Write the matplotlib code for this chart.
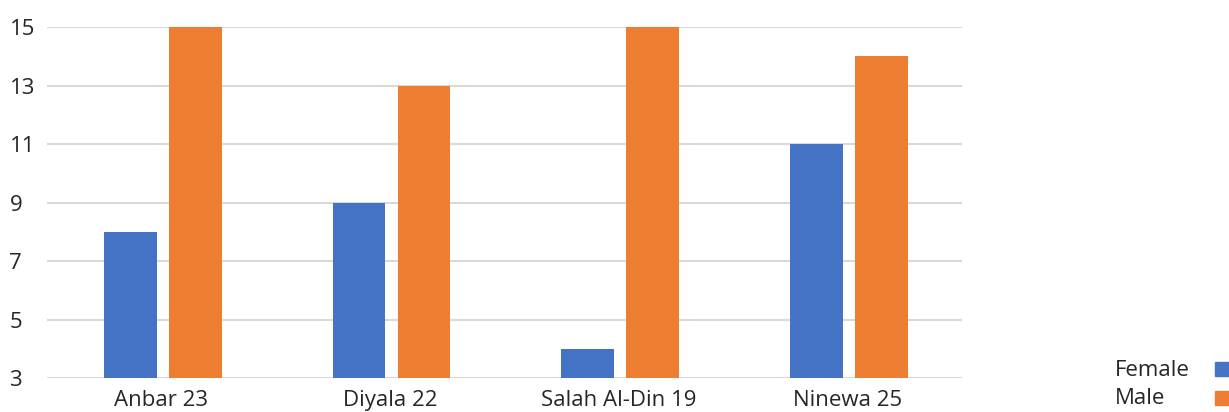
import numpy as np
import matplotlib.pyplot as plt
from matplotlib.patches import Rectangle

categories = ['Anbar 23', 'Diyala 22', 'Salah Al-Din 19', 'Ninewa 25']
female = [8, 9, 4, 11]
male = [15, 13, 15, 14]
yticks = [3, 5, 7, 9, 11, 13, 15]

BLUE = '#4472C4'
ORANGE = '#ED7D31'
TXT = '#262626'

plt.rcParams['font.family'] = ['Open Sans', 'DejaVu Sans']

W, H = 1229, 412
fig = plt.figure(figsize=(W / 100, H / 100), dpi=100)
ax = fig.add_axes([47 / W, (H - 378) / H, (962 - 47) / W, (378 - 27) / H])

x = np.arange(len(categories))
w = 0.23
off = 0.142
ax.bar(x - off + 0.006, female, w, color=BLUE, zorder=3)
ax.bar(x + off + 0.006, male, w, color=ORANGE, zorder=3)

ax.set_xlim(-0.5, len(categories) - 0.5)
ax.set_ylim(3, 15)
ax.set_yticks(yticks)
ax.set_xticks(x)
ax.set_xticklabels(categories)
ax.yaxis.grid(True, color='#D9D9D9', linewidth=1.5, zorder=0)
ax.set_axisbelow(True)
for s in ax.spines.values():
    s.set_visible(False)
ax.tick_params(axis='both', length=0, labelsize=16, colors=TXT)
ax.tick_params(axis='y', pad=27)
for lab in ax.get_yticklabels():
    lab.set_horizontalalignment('left')
ax.tick_params(axis='x', pad=8.5)

# legend at bottom right, labels left aligned, keys cut by the edge
fig.text(1115 / W, (H - 371) / H, 'Female', fontsize=16, color=TXT, va='center', ha='left')
fig.text(1115 / W, (H - 399) / H, 'Male', fontsize=16, color=TXT, va='center', ha='left')
fig.add_artist(Rectangle((1215 / W, (H - 376) / H), 14 / W, 14 / H,
                         transform=fig.transFigure, color=BLUE))
fig.add_artist(Rectangle((1215 / W, (H - 405) / H), 14 / W, 14 / H,
                         transform=fig.transFigure, color=ORANGE))

fig.savefig('out.png', dpi=100)
